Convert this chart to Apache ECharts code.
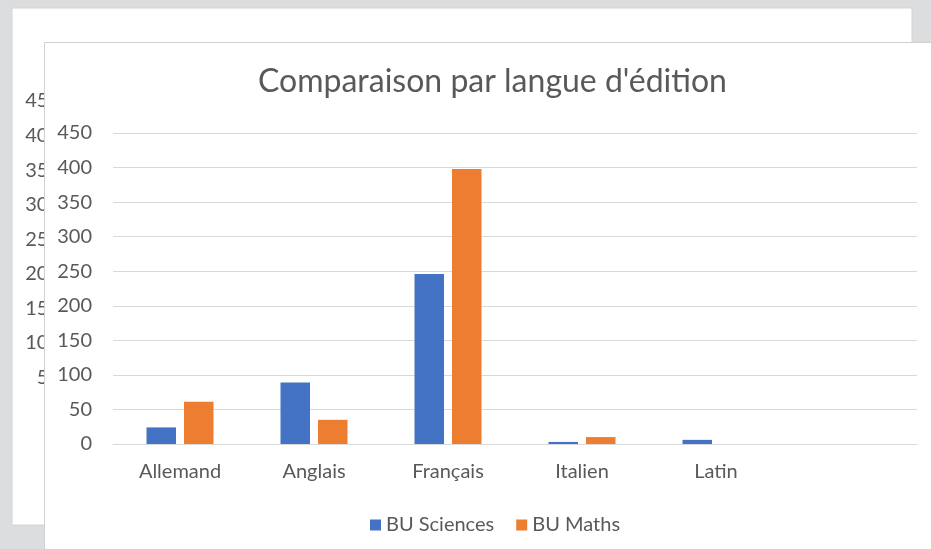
<!DOCTYPE html>
<html><head><meta charset="utf-8">
<script src="https://cdn.jsdelivr.net/npm/echarts@6/dist/echarts.min.js"></script>
<style>html,body{margin:0;padding:0;background:#dcdddf}#c{width:931px;height:549px}</style>
</head><body><div id="c"></div>
<script>
var categories = ['Allemand', 'Anglais', 'Français', 'Italien', 'Latin', ''];
var buSciences = [24, 89, 246, 3, 6, null];
var buMaths = [61, 35, 398, 10, 0, null];
var seriesNames = ['BU Sciences', 'BU Maths'];
var chartTitle = "Comparaison par langue d'édition";
var yMin = 0, yMax = 450, yStep = 50;

var FONT = 'Lato';
var TXT = '#595959';
var chart = echarts.init(document.getElementById('c'));
chart.setOption({
  backgroundColor: '#dcdddf',
  animation: false,
  textStyle: {fontFamily: FONT},
  graphic: [
    {type: 'rect', z: 1, shape: {x: 12, y: 8, width: 900, height: 517}, style: {fill: '#fff', stroke: '#d4d4d4', lineWidth: 1}},
    {type: 'text', z: 2, style: {text: chartTitle, x: 462, y: 56, align: 'center', verticalAlign: 'middle', font: '32px ' + FONT, fill: '#c4c4c4'}},
    {type: 'rect', z: 3, shape: {x: 44.5, y: 42.5, width: 920, height: 540}, style: {fill: '#fff', stroke: '#d0d0d0', lineWidth: 1}}
  ],
  title: {text: chartTitle, left: 258, top: 66, z: 6, padding: 0,
    textStyle: {fontFamily: FONT, fontSize: 32, fontWeight: 'normal', color: TXT}},
  legend: {data: seriesNames, left: 365, top: 510, z: 6, itemWidth: 11, itemHeight: 11, itemGap: 22,
    icon: 'rect', textStyle: {fontFamily: FONT, fontSize: 20, color: TXT}},
  grid: [
    {left: 113, right: 14, top: 133, bottom: 105, z: 4},
    {left: 81, right: 100, top: 101, bottom: 137, z: 2}
  ],
  xAxis: [
    {type: 'category', data: categories, gridIndex: 0, z: 4,
      axisLine: {lineStyle: {color: '#d9d9d9'}}, axisTick: {show: false},
      axisLabel: {color: TXT, fontSize: 20, margin: 18, fontFamily: FONT}},
    {type: 'category', data: categories, gridIndex: 1, show: false}
  ],
  yAxis: [
    {type: 'value', gridIndex: 0, min: yMin, max: yMax, interval: yStep, z: 4,
      axisLine: {show: false}, axisTick: {show: false},
      splitLine: {lineStyle: {color: '#d9d9d9', width: 1}},
      axisLabel: {color: TXT, fontSize: 20, margin: 21, fontFamily: FONT}},
    {type: 'value', gridIndex: 1, min: yMin, max: yMax, interval: yStep, z: 2,
      axisLine: {show: false}, axisTick: {show: false}, splitLine: {show: false},
      axisLabel: {color: TXT, fontSize: 20, margin: 21, fontFamily: FONT}}
  ],
  series: [
    {name: seriesNames[0], type: 'bar', data: buSciences, xAxisIndex: 0, yAxisIndex: 0, z: 5,
      itemStyle: {color: '#4472C4'}, barGap: '27%', barCategoryGap: '50%'},
    {name: seriesNames[1], type: 'bar', data: buMaths, xAxisIndex: 0, yAxisIndex: 0, z: 5,
      itemStyle: {color: '#ED7D31'}, barGap: '27%', barCategoryGap: '50%'}
  ]
});
</script></body></html>
